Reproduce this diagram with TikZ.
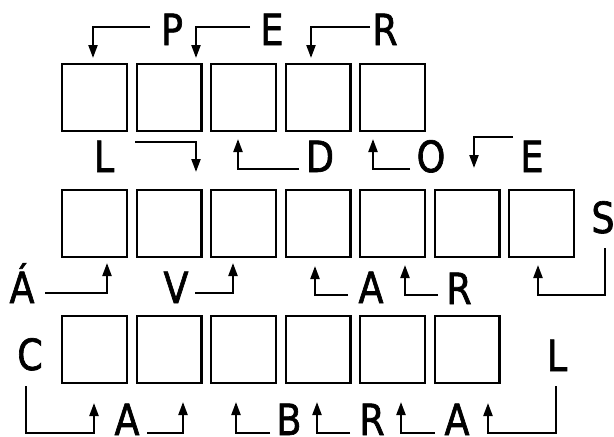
\documentclass[tikz,border=0pt]{standalone}
\usepackage{fontspec}
\setmainfont{DejaVu Sans}[FakeStretch=0.85,FakeBold=1.5]
\usetikzlibrary{arrows.meta}
\tikzset{
  cell/.style={draw, line width=2.4pt, minimum width=64.6pt, minimum height=66.6pt, inner sep=0pt},
  letter/.style={inner sep=0pt, anchor=base, font=\fontsize{43}{43}\selectfont},
  conn/.style={line width=2.2pt, -{Triangle[length=13pt,width=9pt]}},
}
\begin{document}
\begin{tikzpicture}[x=1pt,y=-1pt]
\useasboundingbox (0,0) rectangle (614,437);
% boxes
\foreach \i/\x in {1/94.5,2/169,3/243.5,4/318,5/392.5}{
  \node[cell] (t\i) at (\x,97.5) {};
}
\foreach \i/\x in {1/94.5,2/169,3/243.5,4/318,5/392.5,6/467,7/541.5}{
  \node[cell] (m\i) at (\x,223.5) {};
}
\foreach \i/\x in {1/94.5,2/169,3/243.5,4/318,5/392.5,6/467}{
  \node[cell] (b\i) at (\x,349.5) {};
}
% letters
\node[letter] (lP) at (172,45) {P};
\node[letter] (lE1) at (272,45) {E};
\node[letter] (lR1) at (385,45) {R};
\node[letter] (lL1) at (104,172) {L};
\node[letter] (lD) at (320,172) {D};
\node[letter] (lO) at (431,172) {O};
\node[letter] (lE2) at (532,172) {E};
\node[letter] (lS) at (603,233) {S};
\node[letter] (lAa) at (22,303) {Á};
\node[letter] (lV) at (176,303) {V};
\node[letter] (lA1) at (371,303) {A};
\node[letter] (lR2) at (459,304) {R};
\node[letter] (lC) at (30,370) {C};
\node[letter] (lL2) at (557,371) {L};
\node[letter] (lA2) at (127,435) {A};
\node[letter] (lB) at (289,435) {B};
\node[letter] (lR3) at (372,435) {R};
\node[letter] (lA3) at (457,435) {A};
% connector start points
\coordinate (s1) at (150,27);
\coordinate (s2) at (250,27);
\coordinate (s3) at (370,27);
\coordinate (s4) at (135,142);
\coordinate (s5) at (299,169);
\coordinate (s6) at (410,169);
\coordinate (s7) at (513,137);
\coordinate (s8) at (45,293);
\coordinate (s9) at (195,293);
\coordinate (s10) at (348,295);
\coordinate (s11) at (438,295);
\coordinate (s12) at (605,248);
\coordinate (s12b) at (605,295);
\coordinate (s13) at (26,386);
\coordinate (s13b) at (26,433);
\coordinate (s14) at (147,433);
\coordinate (s15) at (270,433);
\coordinate (s16) at (350,433);
\coordinate (s17) at (435,433);
\coordinate (s18) at (556,386);
\coordinate (s18b) at (556,433);
% connectors
\draw[conn, shorten >=5pt] (s1) -| ([xshift=-1.5pt]t1.north);
\draw[conn, shorten >=5pt] (s2) -| ([xshift=27pt]t2.north);
\draw[conn, shorten >=5pt] (s3) -| ([xshift=-7pt]t4.north);
\draw[conn, shorten >=17pt] (s4) -| ([xshift=27pt]m2.north);
\draw[conn, shorten >=7pt] (s5) -| ([xshift=-5.5pt]t3.south);
\draw[conn, shorten >=7pt] (s6) -| ([xshift=-19.5pt]t5.south);
\draw[conn, shorten >=21pt] (s7) -| ([xshift=7pt]m6.north);
\draw[conn, shorten >=5pt] (s8) -| ([xshift=12.5pt]m1.south);
\draw[conn, shorten >=5pt] (s9) -| ([xshift=-10.5pt]m3.south);
\draw[conn, shorten >=8pt] (s10) -| ([xshift=-3pt]m4.south);
\draw[conn, shorten >=7pt] (s11) -| ([xshift=12.5pt]m5.south);
\draw[conn, shorten >=7pt] (s12) -- (s12b) -| ([xshift=-3.5pt]m7.south);
\draw[conn, shorten >=19pt] (s13) -- (s13b) -| ([xshift=-0.5pt]b1.south);
\draw[conn, shorten >=18pt] (s14) -| ([xshift=14pt]b2.south);
\draw[conn, shorten >=18pt] (s15) -| ([xshift=-7.5pt]b3.south);
\draw[conn, shorten >=18pt] (s16) -| ([xshift=-1pt]b4.south);
\draw[conn, shorten >=18pt] (s17) -| ([xshift=8.5pt]b5.south);
\draw[conn, shorten >=19pt] (s18) -- (s18b) -| ([xshift=21pt]b6.south);
\end{tikzpicture}
\end{document}
